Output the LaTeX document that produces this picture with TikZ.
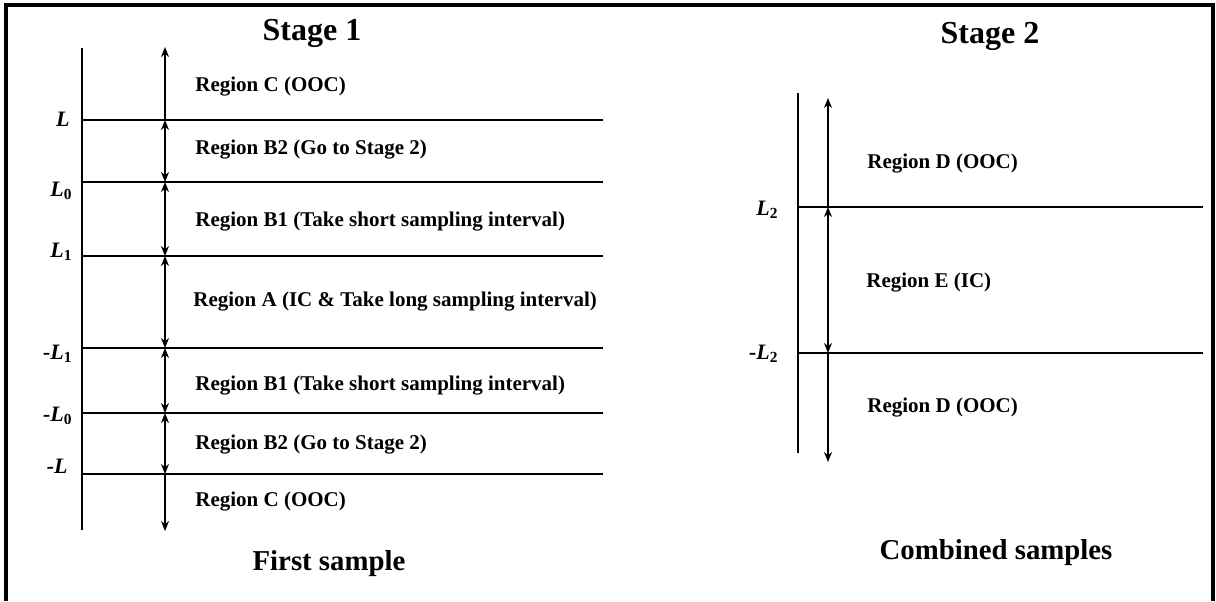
\documentclass[tikz,border=0pt]{standalone}
\usepackage{fontspec}
\setmainfont{Liberation Serif}
\usepackage{tikz}
\usetikzlibrary{arrows.meta}
\tikzset{frame/.style={draw=black, line width=1.6pt},
 level/.style={draw=black, line width=1.25pt},
 axis/.style={draw=black, line width=0.8pt},
 span/.style={draw=black, line width=1.2pt, {Stealth[length=5pt,width=4pt]}-{Stealth[length=5pt,width=4pt]}},
 up/.style={draw=black, line width=1.2pt, -{Stealth[length=5pt,width=4pt]}},
 region/.style={anchor=west, inner sep=0pt, font=\fontsize{10.5}{12}\selectfont\bfseries},
 limit/.style={anchor=east, inner sep=0pt, font=\fontsize{11}{12}\selectfont\bfseries\itshape},
 heading/.style={inner sep=0pt, font=\fontsize{16}{18}\selectfont\bfseries},
 caption/.style={inner sep=0pt, font=\fontsize{14.4}{16}\selectfont\bfseries},
 }
\newcommand{\limsub}[2]{#1\textsubscript{\upshape #2}}
\begin{document}
\begin{tikzpicture}[x=0.5pt,y=-0.5pt]
        \useasboundingbox (0,0) rectangle (1216,601);
        \draw[frame] (6,601) -- (6,5) -- (1213,5) -- (1213,601);

        % stage 1
        \node[heading] (st1) at (312,33) {Stage 1};
        \coordinate (ltop) at (82,48);
        \coordinate (lbot) at (82,530);
        \draw[axis] (ltop) -- (lbot);
        \foreach \n/\y in {L/120,Lz/182,Lo/256,mLo/348,mLz/413,mL/474}{
            \coordinate (l\n) at (82,\y);
            \coordinate (r\n) at (603,\y);
            \coordinate (a\n) at (165,\y);
            \draw[level] (l\n) -- (r\n);
        }
        \coordinate (atop) at (165,47);
        \coordinate (abot) at (165,531);
        \draw[up] (aL) -- (atop);
        \draw[span] (aL) -- (aLz);
        \draw[span] (aLz) -- (aLo);
        \draw[span] (aLo) -- (amLo);
        \draw[span] (amLo) -- (amLz);
        \draw[span] (amLz) -- (amL);
        \draw[up] (amL) -- (abot);

        \node[limit] (tL) at (70,119) {L};
        \node[limit] (tLz) at (73,191) {\limsub{L}{0}};
        \node[limit] (tLo) at (73,252) {\limsub{L}{1}};
        \node[limit] (tmLo) at (73,354) {-\limsub{L}{1}};
        \node[limit] (tmLz) at (73,416) {-\limsub{L}{0}};
        \node[limit] (tmL) at (68,466) {-L};

        \node[region] (rC) at (195,87) {Region C (OOC)};
        \node[region] (rBb) at (195,150) {Region B2 (Go to Stage 2)};
        \node[region] (rBa) at (195,222) {Region B1 (Take short sampling interval)};
        \node[region] (rA) at (193,302) {Region A (IC \& Take long sampling interval)};
        \node[region] (rBa2) at (195,386) {Region B1 (Take short sampling interval)};
        \node[region] (rBb2) at (195,445) {Region B2 (Go to Stage 2)};
        \node[region] (rC2) at (195,502) {Region C (OOC)};
        \node[caption] (cap1) at (329,564) {First sample};

        % stage 2
        \node[heading] (st2) at (990,36) {Stage 2};
        \coordinate (ptop) at (798,93);
        \coordinate (pbot) at (798,453);
        \draw[axis] (ptop) -- (pbot);
        \foreach \n/\y in {Lt/207,mLt/353}{
            \coordinate (p\n) at (798,\y);
            \coordinate (q\n) at (1203,\y);
            \coordinate (b\n) at (828,\y);
            \draw[level] (p\n) -- (q\n);
        }
        \coordinate (btop) at (828,98);
        \coordinate (bbot) at (828,462);
        \draw[up] (bLt) -- (btop);
        \draw[span] (bLt) -- (bmLt);
        \draw[up] (bmLt) -- (bbot);

        \node[limit] (tLt) at (779,210) {\limsub{L}{2}};
        \node[limit] (tmLt) at (779,354) {-\limsub{L}{2}};

        \node[region] (rD) at (867,164) {Region D (OOC)};
        \node[region] (rE) at (866,283) {Region E (IC)};
        \node[region] (rD2) at (867,408) {Region D (OOC)};
        \node[caption] (cap2) at (996,553) {Combined samples};
    \end{tikzpicture}
\end{document}
